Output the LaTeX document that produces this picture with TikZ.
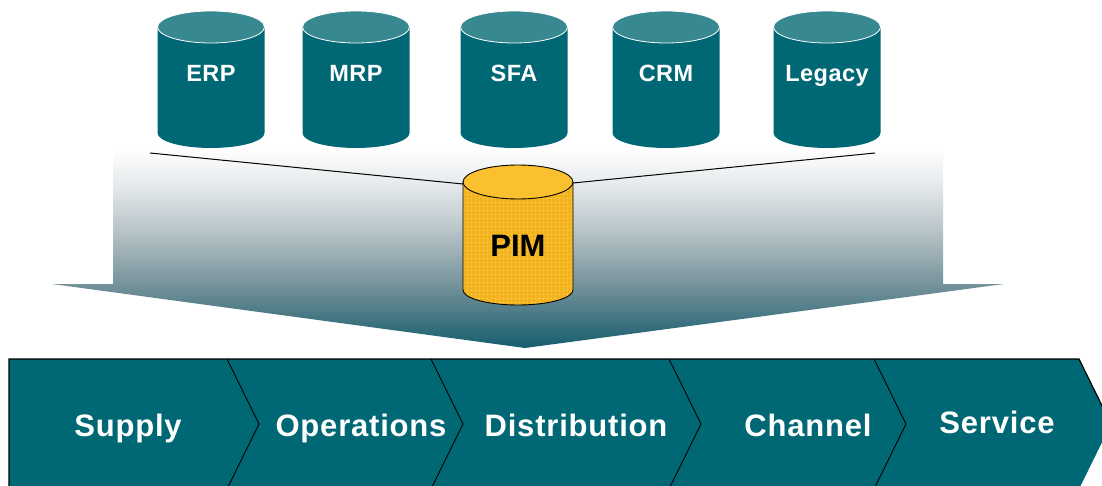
\documentclass[tikz,border=0pt]{standalone}
\usepackage{fontspec}
\setmainfont{Liberation Sans}
\newfontfamily\barfont{Liberation Sans}[LetterSpace=2.6]
\newfontfamily\cylfont{Liberation Sans}[LetterSpace=2.0]
\usetikzlibrary{patterns.meta}
\definecolor{teal0}{RGB}{0,103,116}
\definecolor{tealtop}{RGB}{56,136,146}
\definecolor{pimbody}{RGB}{243,180,30}
\definecolor{pimtop}{RGB}{250,192,48}
\definecolor{fbot}{RGB}{22,94,110}
\definecolor{fmid2}{RGB}{118,146,154}
\definecolor{fmid}{RGB}{186,198,202}
\definecolor{fhi}{RGB}{230,234,236}
\pgfdeclareverticalshading{funnelshade}{100bp}{color(0bp)=(fbot); color(25bp)=(fbot); color(41bp)=(fmid2); color(55bp)=(fmid); color(66bp)=(fhi); color(75bp)=(white); color(100bp)=(white)}
\tikzset{
  toplbl/.style={text=white, font=\cylfont\fontsize{23.5}{26}\selectfont\bfseries, inner sep=0pt, anchor=base},
  pimlbl/.style={text=black, font=\fontsize{31}{34}\selectfont\bfseries, inner sep=0pt, anchor=base},
  barlbl/.style={text=white, font=\barfont\fontsize{31}{34}\selectfont\bfseries, inner sep=0pt, anchor=base},
  feed/.style={draw=black, line width=1pt},
  divider/.style={draw=black, line width=0.9pt},
}
\begin{document}
\begin{tikzpicture}[x=1pt,y=-1pt]
\useasboundingbox (0,0) rectangle (1102,486);
\clip (0,0) rectangle (1102,486);
\fill[white] (0,0) rectangle (1102,486);

% funnel arrow
\shade[shading=funnelshade] (113,148) -- (943,148) -- (943,284) -- (1004,284) -- (525,348) -- (52,284) -- (113,284) -- cycle;

% source databases
\foreach \n/\cx/\t in {erp/211/ERP, mrp/356/MRP, sfa/514/SFA, crm/666/CRM, leg/827/Legacy}{
  \fill[teal0] (\cx-53.5,27) -- (\cx-53.5,133) arc[start angle=180,end angle=0,x radius=53.5,y radius=15] -- (\cx+53.5,27) -- cycle;
  \filldraw[fill=tealtop, draw=white, line width=0.8pt] (\cx,27) ellipse[x radius=53.5, y radius=16];
  \node[toplbl] (\n) at (\cx,82) {\t};
}

% feed lines
\coordinate (l1) at (150,153);
\coordinate (r1) at (875,153);
\coordinate (pimL) at (463,184);
\coordinate (pimR) at (573,183);
\draw[feed] (l1) -- (pimL);
\draw[feed] (pimR) -- (r1);

% PIM cylinder
\fill[pimbody] (463,182) -- (463,290) arc[start angle=180,end angle=0,x radius=55,y radius=15] -- (573,182) -- cycle;
\fill[pattern={Dots[distance=4pt, radius=0.55pt]}, pattern color=white!85!pimbody] (463,182) -- (463,290) arc[start angle=180,end angle=0,x radius=55,y radius=15] -- (573,182) -- cycle;
\draw[black, line width=0.9pt] (463,182) -- (463,290) arc[start angle=180,end angle=0,x radius=55,y radius=15] -- (573,182);
\filldraw[fill=pimtop, draw=black, line width=0.9pt] (518,182) ellipse[x radius=55, y radius=17];
\node[pimlbl] (pim) at (518,257) {PIM};

% value chain bar
\fill[teal0] (9,359) -- (1079,359) -- (1111,424) -- (1079,489) -- (9,489) -- cycle;
\draw[black, line width=1.2pt] (9,489) -- (9,359) -- (1079,359) -- (1111,424);
\foreach \xx in {227,431,669,874}{
  \draw[divider] (\xx,359) -- (\xx+32,424) -- (\xx,489);
}
\node[barlbl] (supply) at (128,436) {Supply};
\node[barlbl] (ops) at (361,436) {Operations};
\node[barlbl] (dist) at (576,436) {Distribution};
\node[barlbl] (chan) at (808,436) {Channel};
\node[barlbl] (serv) at (997,433) {Service};
\end{tikzpicture}
\end{document}
